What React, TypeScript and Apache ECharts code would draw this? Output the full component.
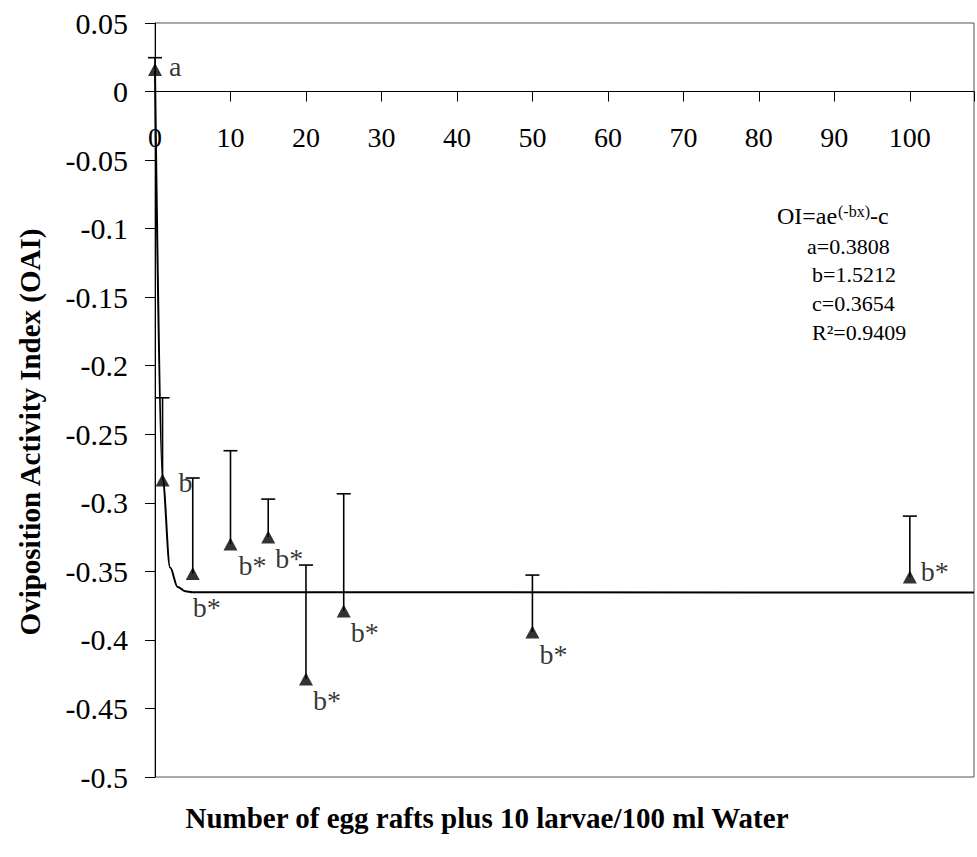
import React, { useEffect, useRef } from "react";
import * as echarts from "echarts";

// ---- data ----
const doses = [0, 1, 5, 10, 15, 20, 25, 50, 100];
const meanOAI = [0.016, -0.2834, -0.3516, -0.3301, -0.325, -0.4286, -0.3789, -0.3943, -0.3541];
const upperOAI = [0.0247, -0.2234, -0.2819, -0.262, -0.2973, -0.3454, -0.2934, -0.3527, -0.3097];
const groupLetters = ["a", "b", "b*", "b*", "b*", "b*", "b*", "b*", "b*"];
const fitX = [0, 1, 2, 3, 4, 5, 108.5];
const fitY = [0.0154, -0.2822, -0.3472, -0.3614, -0.3645, -0.3652, -0.3654];
const equationLines = ["a=0.3808", "b=1.5212", "c=0.3654", "R²=0.9409"];

const Y_MIN = -0.5;
const Y_MAX = 0.05;
const X_MAX = 108.5;

// label placement (pixels relative to marker centre)
const letterOffsets: [number, number][] = [
  [14, -3], [16, 2], [0, 34], [8, 21], [7, 21], [7, 21], [7, 22], [7, 22], [11, -5],
];

const SERIF = "'Liberation Serif', 'Times New Roman', serif";
const GRID_TOP = 23;
const GRID_BOTTOM = 80;
const HEIGHT = 857;

export default function App() {
  const ref = useRef<HTMLDivElement>(null);
  useEffect(() => {
    if (!ref.current) return;
    const chart = echarts.init(ref.current, undefined, { renderer: "svg" });
    const gridH = HEIGHT - GRID_TOP - GRID_BOTTOM;
    const zeroOffset = -((0 - Y_MIN) / (Y_MAX - Y_MIN)) * gridH;
    const option: any = {
      animation: false,
      backgroundColor: "#fff",
      grid: {
        left: 155,
        top: GRID_TOP,
        bottom: GRID_BOTTOM,
        right: 0,
        show: true,
        borderColor: "#555",
        borderWidth: 1,
        backgroundColor: "transparent",
      },
      xAxis: {
        type: "value",
        position: "bottom",
        offset: zeroOffset,
        min: 0,
        max: X_MAX,
        interval: 10,
        axisLine: { show: true, onZero: false, lineStyle: { color: "#000", width: 1 } },
        axisTick: { show: true, length: 10, lineStyle: { color: "#000" } },
        splitLine: { show: false },
        axisLabel: {
          margin: 32,
          fontFamily: SERIF,
          fontSize: 28,
          color: "#000",
          formatter: (v: number) => (v <= 100 && v % 10 === 0 ? String(v) : ""),
        },
      },
      yAxis: {
        type: "value",
        min: Y_MIN,
        max: Y_MAX,
        interval: 0.05,
        axisLine: { show: true, onZero: false, lineStyle: { color: "#000", width: 1 } },
        axisTick: { show: true, length: 10, lineStyle: { color: "#000" } },
        splitLine: { show: false },
        axisLabel: {
          margin: 27,
          fontFamily: SERIF,
          fontSize: 30,
          color: "#000",
          formatter: (v: number) => String(parseFloat(v.toFixed(2))),
        },
      },
      series: [
        {
          type: "line",
          data: fitX.map((x, i) => [x, fitY[i]]),
          showSymbol: false,
          smooth: 0.35,
          smoothMonotone: "x",
          clip: true,
          lineStyle: { color: "#000", width: 2 },
          z: 2,
        },
        {
          type: "custom",
          data: doses.map((x, i) => [x, meanOAI[i], upperOAI[i]]),
          encode: { x: 0, y: [1, 2] },
          renderItem: (params: any, api: any) => {
            const x = api.value(0);
            const p0 = api.coord([x, api.value(1)]);
            const p1 = api.coord([x, api.value(2)]);
            const st = { stroke: "#000", lineWidth: 1.6 };
            return {
              type: "group",
              children: [
                { type: "line", shape: { x1: p0[0], y1: p0[1], x2: p1[0], y2: p1[1] }, style: st },
                { type: "line", shape: { x1: p1[0] - 7, y1: p1[1], x2: p1[0] + 7, y2: p1[1] }, style: st },
              ],
            };
          },
          z: 3,
        },
        {
          type: "scatter",
          symbol: "triangle",
          symbolSize: [14, 13],
          itemStyle: { color: "#000" },
          data: doses.map((x, i) => ({
            value: [x, meanOAI[i]],
            label: { offset: letterOffsets[i] },
          })),
          label: {
            show: true,
            position: "inside",
            align: "left",
            verticalAlign: "middle",
            fontFamily: SERIF,
            fontSize: 28,
            color: "#000",
            textBorderWidth: 0,
            textBorderColor: "transparent",
            formatter: (p: any) => groupLetters[p.dataIndex],
          },
          z: 4,
        },
      ],
      graphic: [
        {
          type: "text",
          x: 30,
          y: 432,
          rotation: Math.PI / 2,
          style: {
            text: "Oviposition Activity Index (OAI)",
            font: `bold 29px ${SERIF}`,
            fill: "#000",
            align: "center",
            verticalAlign: "middle",
          },
        },
        {
          type: "text",
          x: 487,
          y: 818,
          style: {
            text: "Number of egg rafts plus 10 larvae/100 ml Water",
            font: `bold 29px ${SERIF}`,
            fill: "#000",
            align: "center",
            verticalAlign: "middle",
          },
        },
        {
          type: "text",
          x: 777,
          y: 216,
          style: { text: "OI=ae", font: `24px ${SERIF}`, fill: "#000", align: "left", verticalAlign: "middle" },
        },
        {
          type: "text",
          x: 838,
          y: 211,
          style: { text: "(-bx)", font: `16px ${SERIF}`, fill: "#000", align: "left", verticalAlign: "middle" },
        },
        {
          type: "text",
          x: 870,
          y: 216,
          style: { text: "-c", font: `24px ${SERIF}`, fill: "#000", align: "left", verticalAlign: "middle" },
        },
        ...equationLines.map((t, i) => ({
          type: "text",
          x: i === 0 ? 807 : 812,
          y: 246 + i * 28.7,
          style: { text: t, font: `22px ${SERIF}`, fill: "#000", align: "left", verticalAlign: "middle" },
        })),
      ],
    };
    chart.setOption(option);
    return () => chart.dispose();
  }, []);
  return (
    <div
      ref={ref}
      style={{ position: "absolute", left: 0, top: 0, width: 977, height: 857, background: "#fff" }}
    />
  );
}
